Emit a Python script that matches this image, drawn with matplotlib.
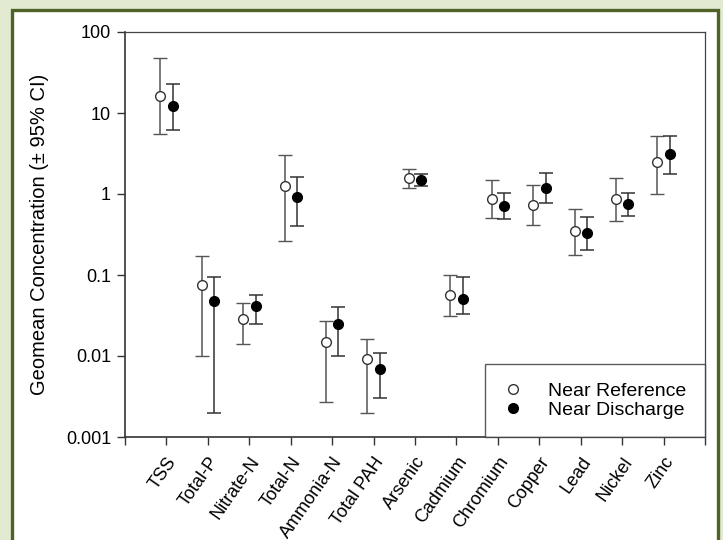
import numpy as np
import matplotlib.pyplot as plt
from matplotlib.patches import Rectangle
from matplotlib.lines import Line2D

# Data
categories = ["TSS", "Total-P", "Nitrate-N", "Total-N", "Ammonia-N", "Total PAH",
              "Arsenic", "Cadmium", "Chromium", "Copper", "Lead", "Nickel", "Zinc"]

ref_mean = [16.4, 0.075, 0.029, 1.27, 0.015, 0.0091, 1.56, 0.057, 0.875, 0.73, 0.346, 0.86, 2.48]
ref_low = [5.5, 0.010, 0.014, 0.265, 0.0027, 0.002, 1.17, 0.031, 0.50, 0.41, 0.177, 0.47, 0.99]
ref_high = [48, 0.17, 0.045, 3.0, 0.027, 0.016, 2.02, 0.10, 1.5, 1.28, 0.65, 1.58, 5.15]

dis_mean = [12.1, 0.048, 0.041, 0.93, 0.025, 0.0070, 1.47, 0.051, 0.72, 1.20, 0.327, 0.75, 3.09]
dis_low = [6.1, 0.002, 0.025, 0.40, 0.010, 0.003, 1.26, 0.033, 0.49, 0.77, 0.204, 0.535, 1.75]
dis_high = [23, 0.095, 0.057, 1.64, 0.040, 0.011, 1.75, 0.094, 1.04, 1.82, 0.525, 1.04, 5.15]

y_ticks = [0.001, 0.01, 0.1, 1, 10, 100]
y_ticklabels = ["0.001", "0.01", "0.1", "1", "10", "100"]

plt.rcParams['font.family'] = ['Liberation Sans', 'DejaVu Sans']

fig = plt.figure(figsize=(7.23, 5.40), dpi=100)
fig.patch.set_facecolor('#e2ead2')

# white panel with dark green frame, kept behind the axes
panel = Rectangle((12 / 723, -0.1), 706 / 723, 1.1 - 10 / 540, transform=fig.transFigure,
                  facecolor='white', edgecolor='#4f6228', linewidth=2.4, zorder=-10)
fig.add_artist(panel)

ax = fig.add_axes([125 / 723, 103 / 540, 580 / 723, 405 / 540])
ax.set_zorder(1)

x = np.arange(1, len(categories) + 1)
off = 0.15

ref_mean = np.array(ref_mean)
dis_mean = np.array(dis_mean)
ref_err = [ref_mean - np.array(ref_low), np.array(ref_high) - ref_mean]
dis_err = [dis_mean - np.array(dis_low), np.array(dis_high) - dis_mean]

ax.errorbar(x - off, ref_mean, yerr=ref_err, fmt='o', mfc='white', mec='#333333',
            mew=1.0, ms=7, ecolor='#555555', elinewidth=1.1, capsize=5, capthick=1.1,
            zorder=3)
ax.errorbar(x + off, dis_mean, yerr=dis_err, fmt='o', mfc='black', mec='black',
            ms=7, ecolor='#333333', elinewidth=1.1, capsize=5, capthick=1.1,
            zorder=3)

ax.set_yscale('log')
ax.set_ylim(0.001, 100)
ax.set_xlim(0, len(categories) + 1)
ax.set_yticks(y_ticks)
ax.set_yticklabels(y_ticklabels)
ax.yaxis.set_minor_locator(plt.NullLocator())

ax.set_xticks(np.arange(0, len(categories) + 2))
ax.set_xticklabels([''] + categories + [''], rotation=55, ha='right',
                   rotation_mode='anchor')

ax.tick_params(axis='both', labelsize=13, length=6, width=1, color='#333333')
ax.tick_params(axis='x', pad=6)
ax.tick_params(axis='y', pad=4)

ax.set_ylabel('Geomean Concentration (± 95% CI)', fontsize=14.5, labelpad=12)

for s in ['left', 'bottom']:
    ax.spines[s].set_color('#333333')
    ax.spines[s].set_linewidth(1.2)
for s in ['top', 'right']:
    ax.spines[s].set_color('#444444')
    ax.spines[s].set_linewidth(0.9)

handles = [
    Line2D([], [], ls='none', marker='o', ms=7, mfc='white', mec='#333333', mew=1.0),
    Line2D([], [], ls='none', marker='o', ms=7, mfc='black', mec='black'),
]
leg = ax.legend(handles, ['Near Reference', 'Near Discharge'], loc='lower right',
                fontsize=14, frameon=True, fancybox=False, borderaxespad=0,
                handlelength=1.0, handletextpad=1.3, borderpad=0.95, labelspacing=0.05)
leg.get_frame().set_edgecolor('#333333')
leg.get_frame().set_linewidth(1.0)

fig.savefig('out.png', dpi=100, facecolor=fig.get_facecolor())
